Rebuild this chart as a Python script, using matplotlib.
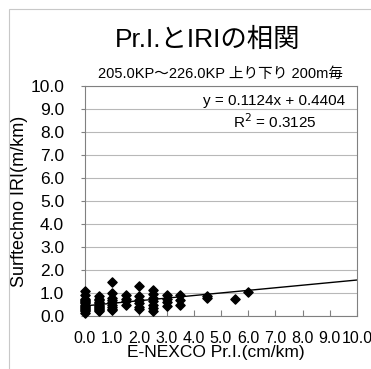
import numpy as np
import matplotlib.pyplot as plt
from matplotlib.patches import Rectangle

plt.rcParams['font.family'] = ['Liberation Sans', 'Noto Sans CJK JP']

# Pr.I. (cm/km) の値と IRI (m/km) の値
pri_cols = [0.0, 0.5, 1.0, 1.5, 2.0, 2.5, 3.0, 3.5, 4.5, 5.5, 6.0]
iri_cols = [
    [1.1, 0.9, 0.75, 0.7, 0.65, 0.6, 0.55, 0.5, 0.45, 0.4, 0.35, 0.3, 0.25, 0.2, 0.15],
    [0.85, 0.75, 0.7, 0.6, 0.55, 0.5, 0.45, 0.4, 0.35, 0.3, 0.25, 0.2],
    [1.5, 1.0, 0.8, 0.7, 0.6, 0.5, 0.4, 0.3, 0.25],
    [0.9, 0.75, 0.65, 0.5],
    [1.3, 0.85, 0.7, 0.55, 0.4, 0.3],
    [1.15, 0.95, 0.8, 0.65, 0.5, 0.35, 0.2],
    [0.9, 0.75, 0.6, 0.45],
    [0.9, 0.7, 0.5],
    [0.8, 0.88],
    [0.75],
    [1.05],
]

# 近似直線
slope = 0.1124
intercept = 0.4404
r2 = 0.3125

x = []
y = []
for px, vals in zip(pri_cols, iri_cols):
    x += [px] * len(vals)
    y += vals

fig = plt.figure(figsize=(3.71, 3.69), dpi=100)
fig.patches.append(Rectangle((9 / 371, -0.1), 1.2, 1.1 - 9 / 369,
                             transform=fig.transFigure, fill=False,
                             edgecolor='#c8c8c8', linewidth=0.8))
ax = fig.add_axes([85 / 371, 1 - 316 / 369, 272 / 371, 230 / 369])

ax.scatter(x, y, marker='D', s=22, color='black', zorder=3, clip_on=False)
xl = np.array([0.0, 10.0])
ax.plot(xl, slope * xl + intercept, color='black', linewidth=1.0, zorder=2)

ax.set_xlim(0, 10)
ax.set_ylim(0, 10)
ax.set_xticks(np.arange(0, 11, 1))
ax.set_yticks(np.arange(0, 11, 1))
ax.set_xticklabels([f'{v:.1f}' for v in range(11)])
ax.set_yticklabels([f'{v:.1f}' for v in range(11)])
ax.tick_params(axis='x', direction='in', length=4, color='#808080', labelsize=11.5, pad=11)
ax.tick_params(axis='y', direction='out', length=3, color='#808080', labelsize=12.5, pad=12)
ax.yaxis.grid(True, color='#b8b8b8', linewidth=0.8)
ax.set_axisbelow(True)
for s in ax.spines.values():
    s.set_color('#808080')
    s.set_linewidth(0.8)

ax.set_xlabel('E-NEXCO Pr.I.(cm/km)', fontsize=12.5)
ax.xaxis.set_label_coords(0.48, -0.125)
ax.set_ylabel('Surftechno IRI(m/km)', fontsize=13, labelpad=2)

ax.text(9.56, 9.35, f'y = {slope}x + {intercept}', ha='right', va='center', fontsize=11)
ax.text(6.98, 8.43, f'R$^2$ = {r2}', ha='center', va='center', fontsize=11)

fig.text(0.56, 0.893, 'Pr.I.とIRIの相関', ha='center', va='center', fontsize=19,
         family=['Liberation Sans', 'Noto Sans CJK JP'])
fig.text(0.595, 0.80, '205.0KP～226.0KP 上り下り 200m毎', ha='center', va='center',
         fontsize=10.5, family=['Liberation Sans', 'Noto Sans CJK JP'])

fig.savefig('out.png', dpi=100)
